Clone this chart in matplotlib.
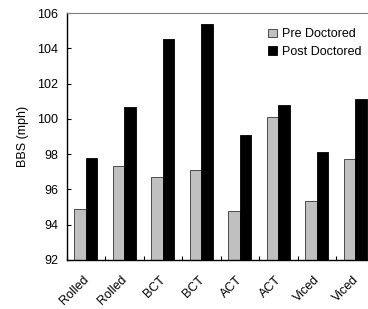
import numpy as np
import matplotlib.pyplot as plt
from matplotlib.ticker import FixedLocator

plt.rcParams['font.family'] = ['Liberation Sans', 'DejaVu Sans']

labels = ["Rolled", "Rolled", "BCT", "BCT", "ACT", "ACT", "Viced", "Viced"]
pre = [94.9, 97.3, 96.7, 97.1, 94.75, 100.1, 95.35, 97.7]
post = [97.8, 100.7, 104.5, 105.4, 99.1, 100.8, 98.1, 101.1]

fig = plt.figure(figsize=(3.68, 3.09), dpi=100)
ax = fig.add_axes([66.5 / 368, 49 / 309, 308 / 368, 247 / 309])

x = np.arange(len(labels))
w = 0.3
ax.bar(x - w / 2, pre, w, color="#c0c0c0", edgecolor="#333333",
       linewidth=0.6, label="Pre Doctored")
ax.bar(x + w / 2, post, w, color="black", edgecolor="black",
       linewidth=0.6, label="Post Doctored")

ax.set_xlim(-0.5, len(labels) - 0.5)
ax.set_ylim(92, 106)
ax.set_yticks(np.arange(92, 107, 2))
ax.set_xticks(x - 0.08)
ax.set_xticklabels(labels, rotation=45, ha="right", rotation_mode="anchor")
ax.xaxis.set_minor_locator(FixedLocator(np.arange(-0.5, len(labels), 1.0)))
ax.tick_params(axis="x", which="major", length=0, labelsize=9, pad=10)
ax.tick_params(axis="x", which="minor", direction="in", length=3, width=0.8)
ax.tick_params(axis="y", direction="in", length=3, width=0.8, labelsize=9, pad=6)
ax.set_ylabel("BBS (mph)", fontsize=9, labelpad=6)

ax.spines["top"].set_color("#808080")
ax.spines["right"].set_visible(False)
ax.spines["left"].set_linewidth(1)
ax.spines["bottom"].set_linewidth(1)

leg = ax.legend(loc="upper left", bbox_to_anchor=(262 / 368, 1 - 22 / 309),
                bbox_transform=fig.transFigure, frameon=False, fontsize=9,
                handlelength=0.7, handleheight=0.7, handletextpad=0.4,
                labelspacing=0.45, borderpad=0)

fig.savefig("out.png", dpi=100)
